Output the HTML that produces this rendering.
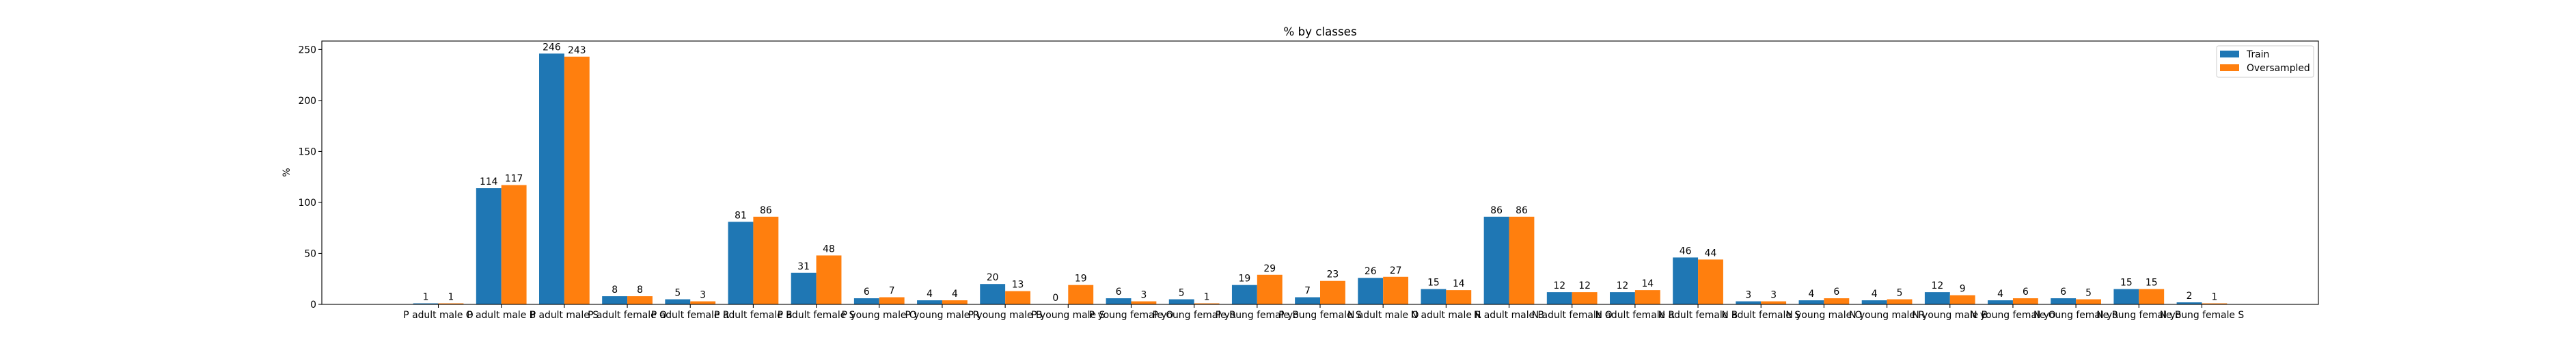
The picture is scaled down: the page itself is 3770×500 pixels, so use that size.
<!DOCTYPE html>
<html><head><meta charset="utf-8"><style>
html,body{margin:0;padding:0;background:#fff;}
svg{display:block;font-family:"DejaVu Sans","Liberation Sans",sans-serif;}
</style></head><body>
<svg id="chart" width="3770" height="500" viewBox="0 0 3770 500" xmlns="http://www.w3.org/2000/svg">
<rect width="3770" height="500" fill="#fff"/>
<text x="1932" y="52" font-size="16.7" text-anchor="middle">% by classes</text>
<text x="0" y="0" font-size="13.9" text-anchor="middle" transform="translate(424,252) rotate(-90)">%</text>
<g id="bars"></g><g id="labels"></g><g id="xticks"></g><g id="yticks"></g>
<rect x="471" y="60" width="2922" height="385" fill="none" stroke="#000" stroke-width="1.1"/>
<g>
<rect x="3244" y="67" width="142" height="46" rx="3" fill="#fff" fill-opacity="0.8" stroke="#ccc"/>
<rect x="3249" y="74" width="28" height="10" fill="#1f77b4"/>
<text x="3288" y="84" font-size="13.9">Train</text>
<rect x="3249" y="94" width="28" height="10" fill="#ff7f0e"/>
<text x="3288" y="104" font-size="13.9">Oversampled</text>
</g>
</svg>
<script>
const categories = ["P adult male O","P adult male B","P adult male S","P adult female O","P adult female R","P adult female B","P adult female S","P young male O","P young male R","P young male B","P young male S","P young female O","P young female R","P young female B","P young female S","N adult male O","N adult male R","N adult male B","N adult female O","N adult female R","N adult female B","N adult female S","N young male O","N young male R","N young male B","N young female O","N young female R","N young female B","N young female S"];
const trainValues = [1,114,246,8,5,81,31,6,4,20,0,6,5,19,7,26,15,86,12,12,46,3,4,4,12,4,6,15,2];
const overValues = [1,117,243,8,3,86,48,7,4,13,19,3,1,29,23,27,14,86,12,14,44,3,6,5,9,6,5,15,1];
const yTicks = [0,50,100,150,200,250];

const NS="http://www.w3.org/2000/svg";
const L=471,R=3393,T=60,B=445;
const xMin=-1.85,xMax=categories.length-1+1.85,yMax=258.3;
const xs=v=>L+(v-xMin)/(xMax-xMin)*(R-L);
const ys=v=>B-v/yMax*(B-T);
const unit=(R-L)/(xMax-xMin);
function mk(tag,attrs,parent){const e=document.createElementNS(NS,tag);for(const k in attrs)e.setAttribute(k,attrs[k]);parent.appendChild(e);return e;}
const gb=document.getElementById('bars'),gl=document.getElementById('labels'),gx=document.getElementById('xticks'),gy=document.getElementById('yticks');
const w=0.4*unit;
categories.forEach((c,i)=>{
  [[trainValues[i],-w,'#1f77b4','train'],[overValues[i],0,'#ff7f0e','oversampled']].forEach(([v,off,col,s])=>{
    const x=xs(i)+off;
    const r=mk('rect',{x:x,y:ys(v),width:w,height:ys(0)-ys(v),fill:col},gb);
    
    
    const t=mk('text',{x:x+w/2,y:ys(v)-5,'font-size':'13.9','text-anchor':'middle'},gl);
    t.textContent=v;
    
    
  });
  const tk=mk('line',{x1:xs(i),x2:xs(i),y1:B,y2:B+5,stroke:'#000','stroke-width':1.1},gx);
  
  
  const tl=mk('text',{x:xs(i),y:B+20,'font-size':'13.9','text-anchor':'middle'},gx);
  tl.textContent=c;
  
  
});
yTicks.forEach(v=>{
  const tk=mk('line',{x1:L-5,x2:L,y1:ys(v),y2:ys(v),stroke:'#000','stroke-width':1.1},gy);
  
  
  const tl=mk('text',{x:L-8,y:ys(v)+5,'font-size':'13.9','text-anchor':'end'},gy);
  tl.textContent=v;
  
  
});
</script>
</body></html>
